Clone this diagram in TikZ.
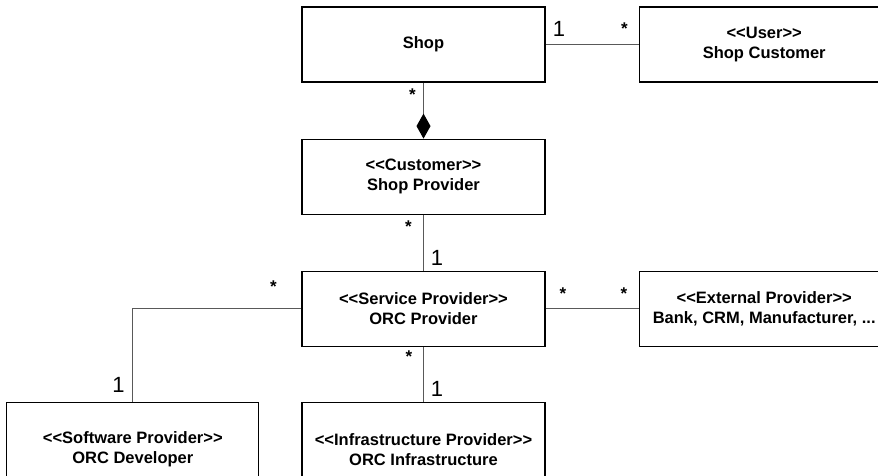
\documentclass[tikz,border=0pt]{standalone}
\usepackage{fontspec}
\newfontfamily\umlfont{Liberation Sans}
\usepackage{tikz}
\usetikzlibrary{arrows.meta, positioning}

\begin{document}
\begin{tikzpicture}[x=1pt, y=-1pt, font=\umlfont\fontsize{16.5}{20}\selectfont\bfseries]
\tikzstyle{cls} = [rectangle, draw, line width=1.2pt, minimum width=243pt, minimum height=75pt, align=center, inner sep=0pt]
\tikzstyle{wide} = [cls, minimum width=250pt]
\tikzstyle{tall} = [cls, minimum height=94pt]
\tikzstyle{assoc} = [draw=black!65, line width=1pt]
\tikzstyle{one} = [font=\umlfont\fontsize{22}{22}\selectfont\mdseries, inner sep=0pt, anchor=base]
\tikzstyle{many} = [font=\umlfont\fontsize{17}{17}\selectfont\bfseries, inner sep=0pt, anchor=north]

\clip (0,0) rectangle (878,475);

% classes
\node (shop) [cls] at (423.5,44.5) {Shop};
\node (cust) [wide, right=93pt of shop] {<<User>>\\Shop Customer};
\node (sprov) [cls, below=56pt of shop] {<<Customer>>\\Shop Provider};
\node (orc) [cls, below=56pt of sprov] {<<Service Provider>>\\ORC Provider};
\node (ext) [wide, right=93pt of orc] {<<External Provider>>\\Bank, CRM, Manufacturer, ...};
\node (infra) [tall, below=55pt of orc] {<<Infrastructure Provider>>\\ORC Infrastructure};
\node (dev) [tall, minimum width=252pt, left=42pt of infra] {<<Software Provider>>\\ORC Developer};

% associations
\draw [assoc] (shop) -- (cust);
\draw [assoc, -{Diamond[length=25pt, width=14pt, black, fill=black]}] (shop) -- (sprov);
\draw [assoc] (sprov) -- (orc);
\draw [assoc] (orc) -- (ext);
\draw [assoc] (orc) -- (infra);
\draw [assoc] (orc.west) -| (dev.north);

% multiplicities
\node (mShop) [one] at (559,36) {1};
\node (mCust) [many] at (624.5,23) {*};
\node (mShopDown) [many] at (412.5,89) {*};
\node (mSprov) [many] at (408.5,221) {*};
\node (mOrcUp) [one] at (437,265) {1};
\node (mOrcRight) [many] at (563,288) {*};
\node (mExt) [many] at (624,288) {*};
\node (mOrcLeft) [many] at (273.5,281) {*};
\node (mDev) [one] at (118.5,392) {1};
\node (mOrcDown) [many] at (409,351) {*};
\node (mInfra) [one] at (437,396) {1};

\end{tikzpicture}
\end{document}
